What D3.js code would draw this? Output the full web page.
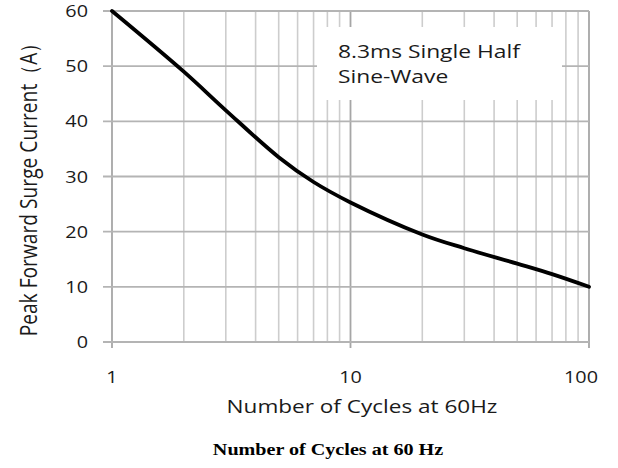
<!DOCTYPE html>
<html lang="en">
<head>
<meta charset="UTF-8">
<title>Peak Forward Surge Current</title>
<style>
  body { margin: 0; padding: 0; background: #fff; }
  svg { display: block; }
  text { font-family: "Open Sans", "Liberation Sans", sans-serif; fill: #1a1a1a; }
</style>
</head>
<body>
<svg width="618" height="468"></svg>
<script src="https://cdn.jsdelivr.net/npm/d3@7/dist/d3.min.js"></script>
<script>
// values
const cycles  = [1, 2, 3, 5, 7, 10, 20, 30, 50, 70, 100];
const current = [60, 49, 42, 33.5, 29, 25.3, 19.5, 17, 14.2, 12.3, 10];
const yTicks = [0, 10, 20, 30, 40, 50, 60];
const xMajor = [1, 10, 100];
const xMinor = [2, 3, 4, 5, 6, 7, 8, 9, 20, 30, 40, 50, 60, 70, 80, 90];

const svg = d3.select("svg");
const plot = {left: 112, right: 589, top: 11, bottom: 342};
const stretch = 1.2; // the source image is a bit wide, text looks stretched

const x = d3.scaleLog().domain([1, 100]).range([plot.left, plot.right]);
const y = d3.scaleLinear().domain([0, 60]).range([plot.bottom, plot.top]);

const grid = svg.append("g");

// vertical grid
grid.selectAll("line.minor").data(xMinor).join("line")
  .attr("x1", d => x(d)).attr("x2", d => x(d))
  .attr("y1", plot.top).attr("y2", plot.bottom)
  .attr("stroke", "#cdcdcd").attr("stroke-width", 1.6);
grid.selectAll("line.major").data(xMajor).join("line")
  .attr("x1", d => x(d)).attr("x2", d => x(d))
  .attr("y1", plot.top).attr("y2", plot.bottom + 6)
  .attr("stroke", "#a6a6a6").attr("stroke-width", 1.8);

// horizontal grid
grid.selectAll("line.h").data(yTicks).join("line")
  .attr("x1", plot.left - 9).attr("x2", plot.right)
  .attr("y1", d => y(d)).attr("y2", d => y(d))
  .attr("stroke", "#b4b4b4").attr("stroke-width", 1.8);

// annotation box covering the grid
svg.append("rect")
  .attr("x", 317).attr("y", 27).attr("width", 245).attr("height", 73)
  .attr("fill", "#fff");

function label(px, py, str, size, anchor, extra) {
  return svg.append("text")
    .attr("transform", `translate(${px},${py}) scale(${stretch},1)` + (extra || ""))
    .attr("text-anchor", anchor || "start")
    .attr("font-size", size)
    .text(str);
}

label(338, 58, "8.3ms Single Half", 19);
label(338, 83, "Sine-Wave", 19);

// curve
const pts = cycles.map((c, i) => [c, current[i]]);
svg.append("path")
  .datum(pts)
  .attr("fill", "none")
  .attr("stroke", "#000")
  .attr("stroke-width", 3.8)
  .attr("stroke-linecap", "round")
  .attr("d", d3.line().x(d => x(d[0])).y(d => y(d[1])).curve(d3.curveCatmullRom.alpha(0.5)));

// tick labels
yTicks.forEach(t => label(88, y(t) + 6, t, 16.5, "end"));
xMajor.forEach((t, i) => {
  const px = i === xMajor.length - 1 ? x(t) - 8 : x(t);
  label(px, 383, t, 16.5, "middle");
});

// axis titles
label(362, 413, "Number of Cycles at 60Hz", 18.8, "middle");
label(37, 185, "Peak Forward Surge Current（A）", 19.2, "middle", " rotate(-90)");

svg.append("text")
  .attr("transform", "translate(328,455) scale(1.15,1)")
  .attr("text-anchor", "middle")
  .attr("font-size", 17.5).attr("font-weight", "bold")
  .style("font-family", "'Liberation Serif', 'Times New Roman', serif")
  .style("fill", "#000")
  .text("Number of Cycles at 60 Hz");
</script>
</body>
</html>
